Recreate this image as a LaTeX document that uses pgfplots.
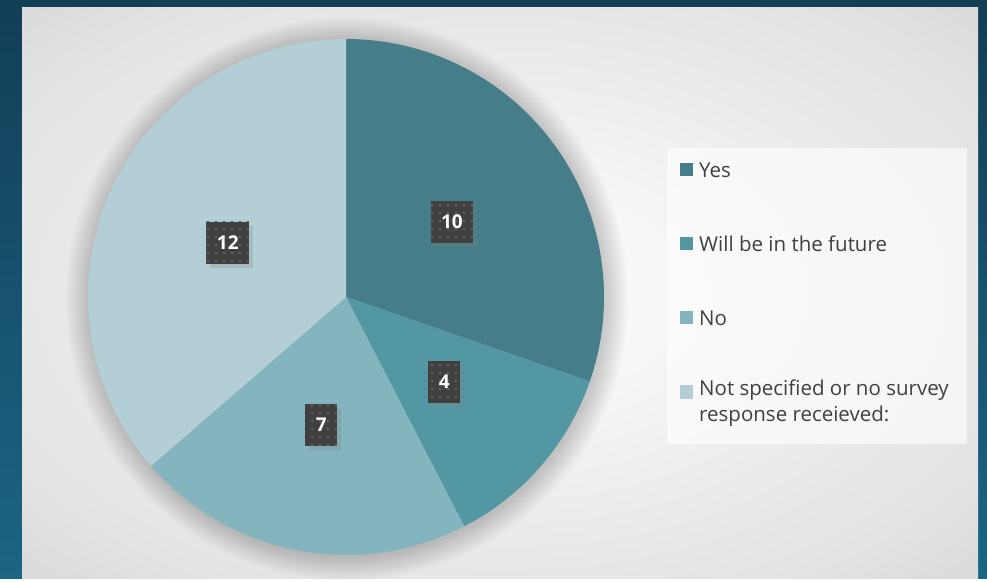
\documentclass[border=0pt]{standalone}
\usepackage{pgfplots}
\pgfplotsset{compat=1.18}
\usepackage{pgfplotstable}
\usepackage{fontspec}
\setmainfont{Open Sans}
\usetikzlibrary{patterns.meta,shadows}
\definecolor{cyes}{HTML}{457E88}
\definecolor{cwill}{HTML}{5397A3}
\definecolor{cno}{HTML}{84B5BF}
\definecolor{cnot}{HTML}{B4CED5}
\definecolor{lblbg}{HTML}{404040}
\definecolor{lbldot}{HTML}{5E5E5E}
\definecolor{legtext}{HTML}{404040}
\definecolor{bgtop}{HTML}{123E56}
\definecolor{bgbot}{HTML}{1B6585}
\definecolor{pgray}{HTML}{C4C4C4}
\definecolor{pmid}{HTML}{E2E2E2}
\pgfdeclareradialshading{panel}{\pgfpoint{0bp}{0bp}}{color(0bp)=(white); color(8bp)=(white!97!black); color(30bp)=(pmid); color(50bp)=(pgray); color(72bp)=(pgray)}

\pgfplotstableread{
label value
Yes 10
Future 4
No 7
NotSpecified 12
}\piedata

\begin{document}
\begin{tikzpicture}[
  lbl/.style={fill=lblbg, text=white, font=\bfseries\fontsize{19}{19}\selectfont,
    minimum height=42pt, inner xsep=10.5pt,
    drop shadow={shadow xshift=4pt, shadow yshift=-4pt, opacity=0.25},
    postaction={pattern={Dots[distance=8pt,radius=1.6pt]}, pattern color=lbldot}},
  leg/.style={anchor=west, text=legtext, font=\fontsize{20.5}{26}\selectfont, inner sep=0pt, align=left}
]
\pgfplotstablegetelem{0}{value}\of\piedata\let\vA\pgfplotsretval
\pgfplotstablegetelem{1}{value}\of\piedata\let\vB\pgfplotsretval
\pgfplotstablegetelem{2}{value}\of\piedata\let\vC\pgfplotsretval
\pgfplotstablegetelem{3}{value}\of\piedata\let\vD\pgfplotsretval
\pgfmathsetmacro\tot{\vA+\vB+\vC+\vD}
\pgfmathsetmacro\aA{90}
\pgfmathsetmacro\aB{\aA-360*\vA/\tot}
\pgfmathsetmacro\aC{\aB-360*\vB/\tot}
\pgfmathsetmacro\aD{\aC-360*\vC/\tot}
\pgfmathsetmacro\aE{\aD-360*\vD/\tot}
\pgfmathsetmacro\mA{(\aA+\aB)/2}
\pgfmathsetmacro\mB{(\aB+\aC)/2}
\pgfmathsetmacro\mC{(\aC+\aD)/2}
\pgfmathsetmacro\mD{(\aD+\aE)/2}
\begin{axis}[x=1pt, y=1pt, xmin=0, xmax=987, ymin=0, ymax=578, hide axis, clip=false]
% slide background
\shade[top color=bgtop, bottom color=bgbot] (axis cs:0,0) rectangle (axis cs:987,578);
% chart panel
\shade[shading=panel] (axis cs:22,0) rectangle (axis cs:978,570);
% soft halo round the pie
\pgfplotsinvokeforeach{1,...,24}{
  \fill[black, opacity=0.006] (axis cs:347,279) circle[radius=258pt+#1pt];
}
% slices
\fill[cyes]  (axis cs:346,281) -- ++(\aA:258pt) arc[start angle=\aA, end angle=\aB, radius=258pt] -- cycle;
\fill[cwill] (axis cs:346,281) -- ++(\aB:258pt) arc[start angle=\aB, end angle=\aC, radius=258pt] -- cycle;
\fill[cno]   (axis cs:346,281) -- ++(\aC:258pt) arc[start angle=\aC, end angle=\aD, radius=258pt] -- cycle;
\fill[cnot]  (axis cs:346,281) -- ++(\aD:258pt) arc[start angle=\aD, end angle=\aE, radius=258pt] -- cycle;
% data labels
\path (axis cs:346,281) ++(\mA:130pt) node[lbl] {\vA};
\path (axis cs:346,281) ++(\mB:130pt) node[lbl] {\vB};
\path (axis cs:346,281) ++(\mC:130pt) node[lbl] {\vC};
\path (axis cs:346,281) ++(\mD:130pt) node[lbl] {\vD};
% legend
\fill[white, opacity=0.6] (axis cs:667,134) rectangle (axis cs:967,430);
\fill[cyes]  (axis cs:680,401.5) rectangle (axis cs:693,414.5);
\fill[cwill] (axis cs:680,327.5) rectangle (axis cs:693,340.5);
\fill[cno]   (axis cs:680,253.5) rectangle (axis cs:693,266.5);
\fill[cnot]  (axis cs:680,179.5) rectangle (axis cs:693,192.5);
\node[leg] at (axis cs:699,408) {Yes};
\node[leg] at (axis cs:699,334) {Will be in the future};
\node[leg] at (axis cs:699,260) {No};
\node[leg, anchor=north west] at (axis cs:699,198) {Not specified or no survey\\response receieved:};
\end{axis}
\end{tikzpicture}
\end{document}
